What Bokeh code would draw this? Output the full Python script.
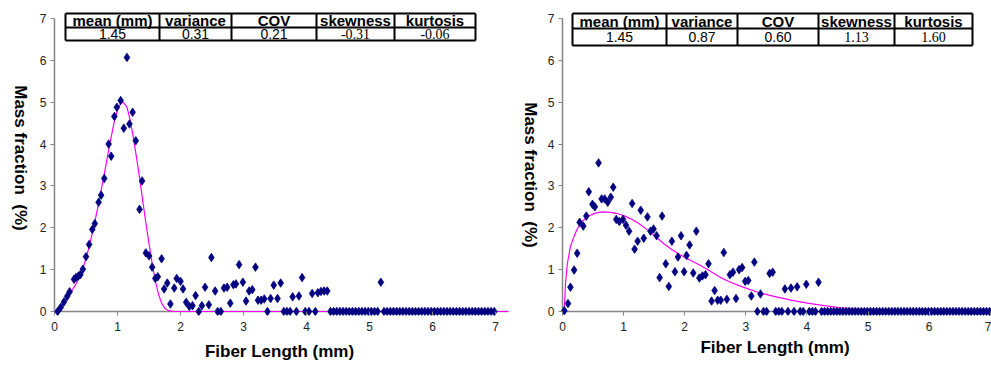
from bokeh.core.properties import value
from bokeh.embed import file_html
from bokeh.layouts import row
from bokeh.models import Div, FixedTicker, Title
from bokeh.plotting import figure
from bokeh.resources import INLINE

# ---------------------------------------------------------------------------
# Sample A: narrow fiber length distribution (measured mass fractions, %)
# ---------------------------------------------------------------------------
a_len = [0.05, 0.10, 0.15, 0.20, 0.24, 0.31, 0.34, 0.38, 0.41, 0.45, 0.50, 0.55,
         0.60, 0.64, 0.70, 0.74, 0.79, 0.86, 0.90, 0.95, 0.99, 1.05, 1.10, 1.15,
         1.19, 1.24, 1.29, 1.35, 1.39, 1.45, 1.50, 1.55, 1.60, 1.64, 1.70, 1.74,
         1.79, 1.84, 1.90, 1.94, 2.00, 2.04, 2.09, 2.14, 2.19, 2.24, 2.29, 2.34,
         2.39, 2.45, 2.49, 2.55, 2.59, 2.64, 2.69, 2.74, 2.79, 2.84, 2.88, 2.93,
         2.99, 3.04, 3.09, 3.14, 3.19, 3.23, 3.28, 3.33, 3.38, 3.43, 3.48, 3.54,
         3.59, 3.64, 3.69, 3.74, 3.78, 3.84, 3.88, 3.93, 3.98, 4.04, 4.09, 4.14,
         4.18, 4.23, 4.28, 4.33,
         4.38, 4.43, 4.48, 4.53, 4.58, 4.63, 4.68, 4.73, 4.78, 4.83, 4.88, 4.93,
         4.98, 5.03, 5.08, 5.13, 5.18, 5.23, 5.28, 5.33, 5.38, 5.43, 5.48, 5.53,
         5.58, 5.63, 5.68, 5.73, 5.78, 5.83, 5.88, 5.93, 5.98, 6.03, 6.08, 6.13,
         6.18, 6.23, 6.28, 6.33, 6.38, 6.43, 6.48, 6.53, 6.58, 6.63, 6.68, 6.73,
         6.78, 6.83, 6.88, 6.93, 6.98]
a_mass = [0.00, 0.10, 0.23, 0.36, 0.47, 0.77, 0.81, 0.85, 0.88, 1.01, 1.31, 1.60,
          1.96, 2.10, 2.61, 2.78, 3.18, 4.00, 3.71, 4.66, 4.88, 5.04, 4.38, 6.07,
          4.48, 4.76, 4.08, 2.44, 3.12, 1.40, 1.33, 1.06, 0.79, 0.83, 1.26, 0.54,
          0.68, 0.18, 0.56, 0.79, 0.72, 0.54, 0.22, 0.12, 0.14, 0.38, 0.00, 0.14,
          0.58, 0.16, 1.29, 0.49, 0.00, 0.00, 0.56, 0.58, 0.20, 0.64, 0.66, 1.12,
          0.70, 0.25, 0.49, 0.52, 1.06, 0.27, 0.27, 0.30, 0.00, 0.31, 0.63, 0.31,
          0.68, 0.00, 0.00, 0.00, 0.35, 0.00, 0.37, 0.81, 0.00, 0.00, 0.43, 0.00,
          0.45, 0.48, 0.49, 0.49,
          0.00, 0.00, 0.00, 0.00, 0.00, 0.00, 0.00, 0.00, 0.00, 0.00, 0.00, 0.00,
          0.00, 0.00, 0.00, 0.00, 0.70, 0.00, 0.00, 0.00, 0.00, 0.00, 0.00, 0.00,
          0.00, 0.00, 0.00, 0.00, 0.00, 0.00, 0.00, 0.00, 0.00, 0.00, 0.00, 0.00,
          0.00, 0.00, 0.00, 0.00, 0.00, 0.00, 0.00, 0.00, 0.00, 0.00, 0.00, 0.00,
          0.00, 0.00, 0.00, 0.00, 0.00]

# fitted distribution for sample A
a_fit_len = [0.00, 0.05, 0.10, 0.15, 0.20, 0.25, 0.30, 0.35, 0.40, 0.45, 0.50,
             0.55, 0.60, 0.65, 0.70, 0.75, 0.80, 0.85, 0.90, 0.95, 1.00, 1.05,
             1.09, 1.15, 1.20, 1.25, 1.30, 1.35, 1.40, 1.45, 1.50, 1.55, 1.60,
             1.65, 1.70, 1.75, 1.80, 1.85, 1.90, 7.25]
a_fit_mass = [0.00, 0.05, 0.12, 0.20, 0.31, 0.43, 0.56, 0.68, 0.84, 1.02, 1.27,
              1.55, 1.87, 2.22, 2.58, 2.97, 3.36, 3.77, 4.17, 4.54, 4.82, 4.97,
              5.00, 4.88, 4.58, 4.17, 3.70, 3.20, 2.65, 2.12, 1.62, 1.15, 0.74,
              0.42, 0.20, 0.08, 0.03, 0.01, 0.00, 0.00]

a_stats = ["1.45", "0.31", "0.21", "-0.31", "-0.06"]

# ---------------------------------------------------------------------------
# Sample B: broad fiber length distribution
# ---------------------------------------------------------------------------
b_len = [0.03, 0.09, 0.13, 0.19, 0.24, 0.28, 0.34, 0.39, 0.43, 0.49, 0.53, 0.59,
         0.64, 0.69, 0.74, 0.79, 0.83, 0.88, 0.93, 0.99, 1.04, 1.09, 1.14, 1.18,
         1.23, 1.28, 1.33, 1.39, 1.44, 1.49, 1.54, 1.59, 1.63, 1.69, 1.74, 1.79,
         1.84, 1.89, 1.94, 1.99, 2.03, 2.08, 2.14, 2.19, 2.24, 2.29, 2.34, 2.39,
         2.44, 2.49, 2.54, 2.59, 2.64, 2.69, 2.74, 2.79, 2.84, 2.89, 2.94, 2.99,
         3.04, 3.09, 3.14, 3.19, 3.24, 3.29, 3.34, 3.39, 3.44, 3.49, 3.54, 3.59,
         3.64, 3.69, 3.74, 3.79, 3.84, 3.89, 3.94, 3.99, 4.04, 4.09, 4.14, 4.19,
         4.24, 4.29, 4.34, 4.39, 4.44, 4.49, 4.54, 4.59, 4.64, 4.69, 4.74, 4.79,
         4.84, 4.89, 4.94, 4.99, 5.04, 5.09, 5.14, 5.19, 5.24, 5.29, 5.34, 5.39,
         5.44, 5.49, 5.54, 5.59, 5.64, 5.69, 5.74, 5.79, 5.84, 5.89, 5.94, 5.99,
         6.04, 6.09, 6.14, 6.19, 6.24, 6.29, 6.34, 6.39, 6.44, 6.49, 6.54, 6.59,
         6.64, 6.69, 6.74, 6.79, 6.84, 6.89, 6.94, 6.99]
b_mass = [0.02, 0.19, 0.58, 0.99, 1.39, 2.13, 2.04, 2.28, 2.86, 2.56, 2.50, 3.55,
          2.69, 2.69, 2.61, 2.73, 2.97, 2.20, 2.15, 2.20, 2.06, 1.92, 2.58, 1.49,
          1.68, 2.42, 1.75, 2.26, 1.92, 1.97, 1.81, 0.81, 2.28, 1.14, 0.60, 1.68,
          0.95, 1.30, 1.81, 0.95, 1.34, 1.59, 0.92, 1.92, 0.80, 0.85, 0.88, 1.14,
          0.25, 0.50, 0.27, 0.27, 1.41, 0.29, 0.88, 0.94, 0.31, 1.00, 1.05, 0.72,
          0.74, 0.37, 1.18, 0.00, 0.42, 0.00, 0.00, 0.91, 0.94, 0.00, 0.00, 0.00,
          0.54, 0.00, 0.56, 0.00, 0.59, 0.00, 0.00, 0.65, 0.00, 0.00, 0.00, 0.70,
          0.00, 0.00, 0.00, 0.00, 0.00, 0.00, 0.00, 0.00, 0.00, 0.00, 0.00, 0.00,
          0.00, 0.00, 0.00, 0.00, 0.00, 0.00, 0.00, 0.00, 0.00, 0.00, 0.00, 0.00,
          0.00, 0.00, 0.00, 0.00, 0.00, 0.00, 0.00, 0.00, 0.00, 0.00, 0.00, 0.00,
          0.00, 0.00, 0.00, 0.00, 0.00, 0.00, 0.00, 0.00, 0.00, 0.00, 0.00, 0.00,
          0.00, 0.00, 0.00, 0.00, 0.00, 0.00, 0.00, 0.00]

# fitted distribution for sample B
b_fit_len = [0.03, 0.05, 0.08, 0.13, 0.19, 0.24, 0.32, 0.43, 0.54, 0.65, 0.79,
             0.90, 1.00, 1.11, 1.25, 1.39, 1.52, 1.66, 1.80, 1.93, 2.10, 2.26,
             2.40, 2.59, 2.75, 2.92, 3.20, 3.46, 3.74, 4.01, 4.28, 4.56, 4.83,
             5.20, 5.60, 6.00, 6.50, 7.10]
b_fit_mass = [0.10, 0.68, 1.15, 1.55, 1.80, 1.97, 2.15, 2.28, 2.35, 2.38, 2.37,
              2.34, 2.29, 2.22, 2.10, 1.95, 1.79, 1.62, 1.47, 1.35, 1.22, 1.10,
              0.98, 0.81, 0.70, 0.60, 0.46, 0.36, 0.27, 0.20, 0.14, 0.09, 0.06,
              0.04, 0.02, 0.01, 0.00, 0.00]

b_stats = ["1.45", "0.87", "0.60", "1.13", "1.60"]

stat_headers = ["mean (mm)", "variance", "COV", "skewness", "kurtosis"]
# the moment statistics are typeset in a serif face
stat_fonts = ["Liberation Sans", "Liberation Sans", "Liberation Sans",
              "Liberation Serif", "Liberation Serif"]

x_ticks = [0, 1, 2, 3, 4, 5, 6, 7]
y_ticks = [0, 1, 2, 3, 4, 5, 6, 7]

Y_TITLE = "Mass fraction  (%)"
X_TITLE = "Fiber Length (mm)"

# ---------------------------------------------------------------------------
# styling / geometry (pixels, page coordinates)
# ---------------------------------------------------------------------------
NAVY = "#000080"
MAGENTA = "#FF00FF"
AXIS_GRAY = "#858585"
SANS = "Liberation Sans"
TITLE_SIZE = "17px"

HEIGHT = 367
FRAME_TOP = 11          # top of plotting frame
FRAME_BOTTOM = 316      # bottom of plotting frame
ZERO_Y = 312            # pixel row of mass fraction 0
PX_PER_PCT = 42.0       # vertical pixels per 1 %


def y_title_div(width, center_x, center_y):
    """Vertical axis title reading top to bottom."""
    html = (
        f'<div style="position:relative;width:{width}px;height:{HEIGHT}px;">'
        f'<div style="position:absolute;left:{center_x}px;top:{center_y}px;'
        'transform:translate(-50%,-50%);writing-mode:vertical-rl;'
        "white-space:pre;font-family:'Liberation Sans';font-weight:bold;"
        f'font-size:{TITLE_SIZE};color:black;">{Y_TITLE}</div></div>'
    )
    return Div(text=html, width=width, height=HEIGHT, margin=0)


def make_panel(offset, width, border_left, border_right, zero_x_px, px_per_mm,
               x_end_px, fit_len, fit_mass, lens, mass, stats, table_cols,
               table_rows, xtitle_center, xtitle_standoff):
    frame_left = offset + border_left          # page x of the frame's left edge
    frame_right = offset + width - border_right
    tick = zero_x_px - frame_left              # gap between frame edge and x = 0
    x_start = -tick / px_per_mm
    x_end = (x_end_px - zero_x_px) / px_per_mm
    y_start = -(FRAME_BOTTOM - ZERO_Y) / PX_PER_PCT
    y_end = (ZERO_Y - FRAME_TOP) / PX_PER_PCT

    p = figure(width=width, height=HEIGHT, output_backend="svg",
               toolbar_location=None, x_range=(x_start, x_end),
               y_range=(y_start, y_end),
               min_border_left=border_left, min_border_right=border_right,
               min_border_top=FRAME_TOP, min_border_bottom=HEIGHT - FRAME_BOTTOM)
    p.outline_line_color = None
    p.grid.visible = False
    p.background_fill_color = "white"

    for ax in (p.xaxis[0], p.yaxis[0]):
        ax.axis_line_color = None
        ax.major_tick_line_color = AXIS_GRAY
        ax.major_tick_line_width = 1
        ax.major_tick_out = 0
        ax.minor_tick_line_color = None
        ax.major_label_text_font = SANS
        ax.major_label_text_font_size = "12px"
        ax.major_label_text_color = "#222222"
    p.xaxis[0].ticker = FixedTicker(ticks=x_ticks)
    p.yaxis[0].ticker = FixedTicker(ticks=y_ticks)
    p.xaxis[0].major_tick_in = FRAME_BOTTOM - ZERO_Y
    p.yaxis[0].major_tick_in = tick
    p.xaxis[0].major_label_standoff = 6
    p.yaxis[0].major_label_standoff = 4

    # horizontal axis title below the tick labels
    p.add_layout(Title(text=X_TITLE, align="center",
                       offset=xtitle_center - (frame_left + frame_right) / 2,
                       standoff=xtitle_standoff, text_font=SANS,
                       text_font_style="bold", text_font_size=TITLE_SIZE,
                       text_color="black"), "below")

    # axis lines through the origin
    p.segment(x0=[0, 0], y0=[0, 0], x1=[x_end, 0], y1=[0, y_ticks[-1]],
              line_color=AXIS_GRAY, line_width=1.5)

    # fitted curve and measured points
    p.line(fit_len, fit_mass, line_color=MAGENTA, line_width=1.2)
    p.scatter(lens, mass, marker="diamond", size=8.5, fill_color=NAVY,
              line_color=NAVY, line_width=0.8)

    # statistics table (page pixel positions converted to data space)
    def dx(px):
        return (px - zero_x_px) / px_per_mm

    def dy(py):
        return (ZERO_Y - py) / PX_PER_PCT

    left, right = table_cols[0], table_cols[-1]
    top, mid, bottom = table_rows
    p.quad(left=[dx(left)], right=[dx(right)], top=[dy(top)], bottom=[dy(bottom)],
           fill_color="white", line_color=None)
    hy = [dy(top), dy(mid), dy(bottom)]
    p.segment(x0=[dx(left)] * 3, y0=hy, x1=[dx(right)] * 3, y1=hy,
              line_color="black", line_width=2)
    vx = [dx(c) for c in table_cols]
    p.segment(x0=vx, y0=[dy(top)] * len(vx), x1=vx, y1=[dy(bottom)] * len(vx),
              line_color="black", line_width=2)

    centers = [dx((a + b) / 2) for a, b in zip(table_cols[:-1], table_cols[1:])]
    p.text(x=centers, y=[dy((top + mid) / 2 + 0.5)] * 5, text=stat_headers,
           text_font=value(SANS), text_font_style="bold",
           text_font_size="15px", text_align="center",
           text_baseline="middle", text_color="black")
    for i in range(5):
        p.text(x=[centers[i]], y=[dy((mid + bottom) / 2 + 0.5)], text=[stats[i]],
               text_font=value(stat_fonts[i]), text_font_size="14px",
               text_align="center", text_baseline="middle", text_color="black")
    return p


PAGE_W = 991
LEFT_TITLE_W = 34
LEFT_W = 478
RIGHT_TITLE_W = 30
RIGHT_W = PAGE_W - LEFT_TITLE_W - LEFT_W - RIGHT_TITLE_W

left_panel = make_panel(offset=LEFT_TITLE_W, width=LEFT_W, border_left=16,
                        border_right=4, zero_x_px=54, px_per_mm=63.0,
                        x_end_px=508, fit_len=a_fit_len, fit_mass=a_fit_mass,
                        lens=a_len, mass=a_mass, stats=a_stats,
                        table_cols=[65, 159, 231, 316, 394, 475],
                        table_rows=[13, 27, 40],
                        xtitle_center=270, xtitle_standoff=13)

right_offset = LEFT_TITLE_W + LEFT_W + RIGHT_TITLE_W
right_panel = make_panel(offset=right_offset, width=RIGHT_W, border_left=16,
                         border_right=0, zero_x_px=562, px_per_mm=61.1,
                         x_end_px=PAGE_W, fit_len=b_fit_len,
                         fit_mass=b_fit_mass, lens=b_len, mass=b_mass,
                         stats=b_stats,
                         table_cols=[572, 666, 737, 818, 894, 972],
                         table_rows=[13, 28, 45],
                         xtitle_center=752, xtitle_standoff=4)

layout = row(y_title_div(LEFT_TITLE_W, 20, 158), left_panel,
             y_title_div(RIGHT_TITLE_W, 530 - LEFT_TITLE_W - LEFT_W, 175),
             right_panel)
open("out.html", "w").write(file_html(layout, INLINE))
